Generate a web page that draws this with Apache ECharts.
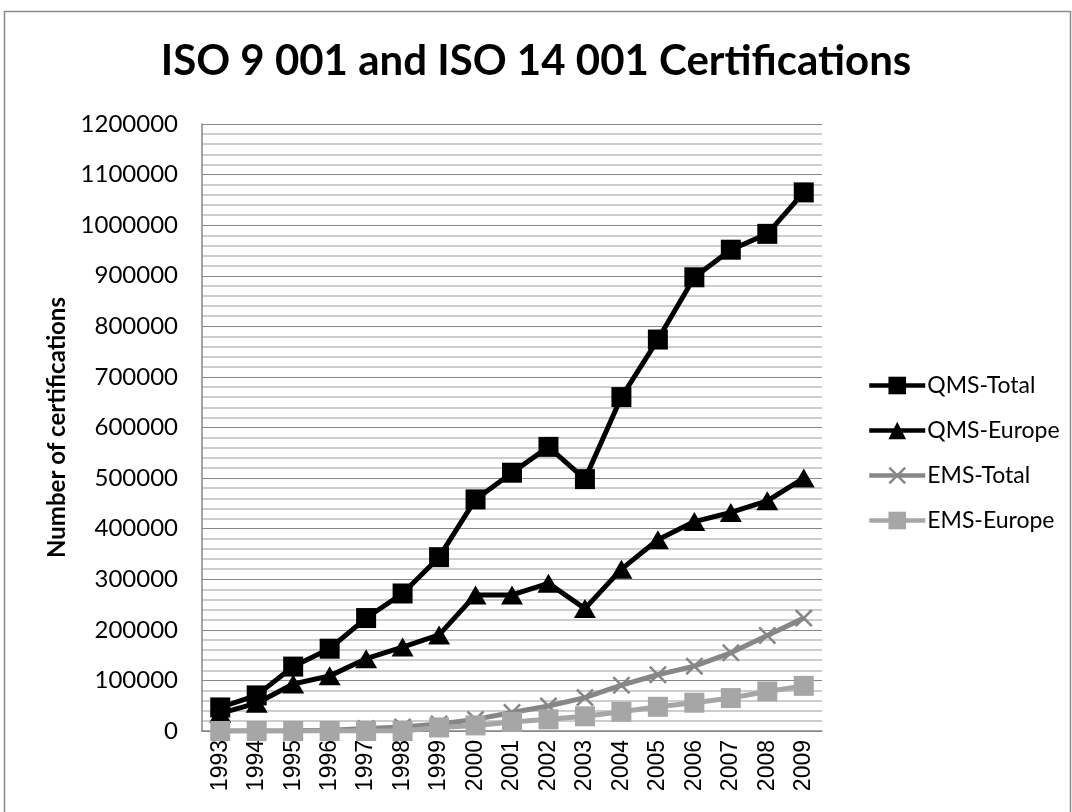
<!DOCTYPE html>
<html>
<head>
<meta charset="utf-8">
<script src="https://cdn.jsdelivr.net/npm/echarts@6/dist/echarts.min.js"></script>
<style>
  html, body { margin: 0; padding: 0; background: #fff; }
  #chart { width: 1072px; height: 812px; }
</style>
</head>
<body>
<div id="chart"></div>
<script>
// data
const years = ["1993", "1994", "1995", "1996", "1997", "1998", "1999", "2000", "2001",
  "2002", "2003", "2004", "2005", "2006", "2007", "2008", "2009"];
const qmsTotal = [46571, 70364, 127349, 162701, 223299, 271847, 343643, 457834, 510616,
  561747, 497919, 660132, 773867, 896929, 951486, 982832, 1064785];
const qmsEurope = [35000, 55000, 93000, 109000, 143000, 166000, 190000, 269000, 269000,
  292000, 242000, 320000, 378000, 414000, 432000, 455000, 500000];
const emsTotal = [0, 0, 257, 1491, 5017, 7887, 13994, 22897, 36464,
  49440, 66070, 90569, 111162, 128211, 154572, 188815, 223149];
const emsEurope = [0, 0, 0, 0, 0, 0, 7000, 11000, 18000,
  23000, 29000, 38000, 47837, 55919, 65097, 78118, 89237];

const crossPath = "path://M0,1L1,0L5,4L9,0L10,1L6,5L10,9L9,10L5,6L1,10L0,9L4,5Z";

const chart = echarts.init(document.getElementById("chart"), null, { renderer: "canvas" });

const option = {
  animation: false,
  backgroundColor: "#fff",
  graphic: [
    {
      type: "rect",
      shape: { x: 4.5, y: 11.5, width: 1066, height: 820 },
      style: { fill: "none", stroke: "#8a8a8a", lineWidth: 1.5 },
      silent: true
    }
  ],
  title: {
    text: "ISO 9 001 and ISO 14 001 Certifications",
    left: "center",
    top: 35,
    textStyle: { fontFamily: "Lato", fontWeight: "bold", fontSize: 42, color: "#000" }
  },
  legend: {
    orient: "vertical",
    left: 862,
    top: 369,
    itemWidth: 56,
    itemHeight: 22,
    itemGap: 22,
    lineStyle: { width: 4.5 },
    textStyle: { fontFamily: "Lato", fontSize: 23, color: "#000", padding: [0, 0, 0, -3] },
    data: ["QMS-Total", "QMS-Europe", "EMS-Total", "EMS-Europe"]
  },
  grid: { left: 202, right: 250, top: 124, bottom: 81 },
  xAxis: {
    type: "category",
    data: years,
    boundaryGap: true,
    axisLine: { lineStyle: { color: "#868686", width: 1.5 } },
    axisTick: { show: false },
    axisLabel: {
      rotate: 90,
      margin: 9,
      color: "#000",
      fontFamily: "Liberation Sans",
      fontSize: 23
    }
  },
  yAxis: {
    type: "value",
    min: 0,
    max: 1200000,
    interval: 100000,
    name: "Number of certifications",
    nameLocation: "middle",
    nameGap: 112,
    nameTextStyle: { fontFamily: "Lato", fontWeight: "bold", fontSize: 24, color: "#000" },
    axisLine: { show: true, lineStyle: { color: "#868686", width: 1.5 } },
    axisTick: { show: false },
    axisLabel: {
      margin: 24,
      color: "#000",
      fontFamily: "Lato",
      fontSize: 24,
      formatter: function (v) { return String(v); }
    },
    splitLine: { lineStyle: { color: "#868686", width: 1 } },
    minorTick: { show: false, splitNumber: 5 },
    minorSplitLine: { show: true, lineStyle: { color: "#bdbdbd", width: 1.5 } }
  },
  series: [
    {
      name: "QMS-Total",
      type: "line",
      data: qmsTotal,
      symbol: "rect",
      symbolSize: 20,
      lineStyle: { color: "#000", width: 5 },
      itemStyle: { color: "#000" }
    },
    {
      name: "QMS-Europe",
      type: "line",
      data: qmsEurope,
      symbol: "triangle",
      symbolSize: [22, 19],
      lineStyle: { color: "#000", width: 5 },
      itemStyle: { color: "#000" }
    },
    {
      name: "EMS-Total",
      type: "line",
      data: emsTotal,
      symbol: crossPath,
      symbolSize: 18,
      lineStyle: { color: "#878787", width: 5 },
      itemStyle: { color: "#878787" }
    },
    {
      name: "EMS-Europe",
      type: "line",
      data: emsEurope,
      symbol: "rect",
      symbolSize: 20,
      lineStyle: { color: "#a6a6a6", width: 5 },
      itemStyle: { color: "#a6a6a6" }
    }
  ]
};

option && chart.setOption(option);
</script>
</body>
</html>
